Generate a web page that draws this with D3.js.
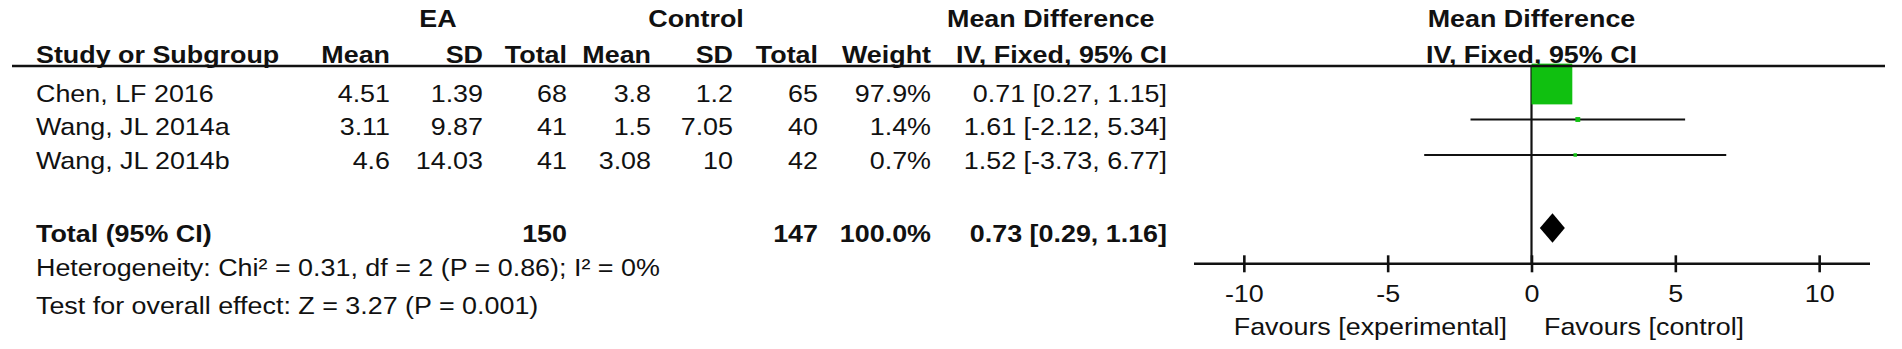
<!DOCTYPE html>
<html>
<head>
<meta charset="utf-8">
<script src="https://cdn.jsdelivr.net/npm/d3@7"></script>
<style>
    html, body { margin: 0; padding: 0; background: #fff; }
    svg { display: block; }
    text { font-family: "Liberation Sans", Arial, Helvetica, sans-serif; fill: #111; }
</style>
</head>
<body>
<div id="chart"></div>
<script>
// data
const studies = ['Chen, LF 2016', 'Wang, JL 2014a', 'Wang, JL 2014b']
const eaMean = [4.51, 3.11, 4.6]
const eaSD = [1.39, 9.87, 14.03]
const eaTotal = [68, 41, 41]
const ctrlMean = [3.8, 1.5, 3.08]
const ctrlSD = [1.2, 7.05, 10]
const ctrlTotal = [65, 40, 42]
const weights = [97.9, 1.4, 0.7]
const meanDiff = [0.71, 1.61, 1.52]
const ciLow = [0.27, -2.12, -3.73]
const ciHigh = [1.15, 5.34, 6.77]

const pooled = [0.73, 0.29, 1.16]   // mean difference, lower, upper
const pooledN = [150, 147]          // EA, control
const pooledWeight = 100

const xTicks = [-10, -5, 0, 5, 10]
const groupLabels = ['EA', 'Control', 'Mean Difference', 'Mean Difference']
const favourLabels = ['Favours [experimental]', 'Favours [control]']
const heterogeneity = 'Heterogeneity: Chi\u00b2 = 0.31, df = 2 (P = 0.86); I\u00b2 = 0%'
const overallEffect = 'Test for overall effect: Z = 3.27 (P = 0.001)'

function draw(){
    // set Dimension
    let dimensions = {
        width: 1902,
        height: 349,
        fontSize: 24,
        stretch: 1.12,
        headLine: 66,
        axisY: 263.3
    }

    const svg = d3.select('#chart')
        .append('svg')
        .attr('width', dimensions.width)
        .attr('height', dimensions.height)

    // text that is a bit wider than the font
    const label = (parent, str, x, y, anchor = 'start', bold = false) => parent.append('text')
        .attr('transform', `translate(${x}, ${y}) scale(${dimensions.stretch}, 1)`)
        .attr('text-anchor', anchor)
        .attr('font-size', dimensions.fontSize)
        .attr('font-weight', bold ? 'bold' : 'normal')
        .text(str)

    const pct = d3.format('.1f')
    const ci = (m, lo, hi) => `${m.toFixed(2)} [${lo.toFixed(2)}, ${hi.toFixed(2)}]`

    const rows = studies.map((name, i) => ({
        name,
        eaMean: eaMean[i], eaSD: eaSD[i], eaTotal: eaTotal[i],
        ctrlMean: ctrlMean[i], ctrlSD: ctrlSD[i], ctrlTotal: ctrlTotal[i],
        weight: weights[i], md: meanDiff[i], lo: ciLow[i], hi: ciHigh[i]
    }))

    // table columns
    const columns = [
        { head: 'Study or Subgroup', x: 36, anchor: 'start', value: d => d.name },
        { head: 'Mean', x: 390, anchor: 'end', value: d => d.eaMean },
        { head: 'SD', x: 483, anchor: 'end', value: d => d.eaSD },
        { head: 'Total', x: 567, anchor: 'end', value: d => d.eaTotal },
        { head: 'Mean', x: 651, anchor: 'end', value: d => d.ctrlMean },
        { head: 'SD', x: 733, anchor: 'end', value: d => d.ctrlSD },
        { head: 'Total', x: 818, anchor: 'end', value: d => d.ctrlTotal },
        { head: 'Weight', x: 931, anchor: 'end', value: d => pct(d.weight) + '%' },
        { head: 'IV, Fixed, 95% CI', x: 1167, anchor: 'end', value: d => ci(d.md, d.lo, d.hi) }
    ]

    // set Scale
    const xScale = d3.scaleLinear()
        .domain([-11.75, 11.75])
        .range([1193.5, 1869.5])

    const rowY = d3.scaleLinear()
        .domain([0, studies.length - 1])
        .range([101.5, 168.5])

    const markY = d3.scaleLinear()
        .domain([0, studies.length - 1])
        .range([84, 155])

    const boxSize = d3.scaleSqrt()
        .domain([0, 100])
        .range([0, 41.2])

    // headers
    const head = svg.append('g').classed('header', true)
    label(head, groupLabels[0], 438, 27, 'middle', true)
    label(head, groupLabels[1], 696, 27, 'middle', true)
    label(head, groupLabels[2], 947, 27, 'start', true)
    label(head, groupLabels[3], xScale(0), 27, 'middle', true)

    columns.forEach(c => label(head, c.head, c.x, 63, c.anchor, true))
    label(head, 'IV, Fixed, 95% CI', xScale(0), 63, 'middle', true)

    // study rows
    const body = svg.append('g').classed('rows', true)
    rows.forEach((d, i) => {
        columns.forEach(c => label(body, c.value(d), c.x, rowY(i), c.anchor))
    })

    // total row
    const total = svg.append('g').classed('total', true)
    label(total, 'Total (95% CI)', 36, 242, 'start', true)
    label(total, pooledN[0], 567, 242, 'end', true)
    label(total, pooledN[1], 818, 242, 'end', true)
    label(total, pct(pooledWeight) + '%', 931, 242, 'end', true)
    label(total, ci(...pooled), 1167, 242, 'end', true)

    label(svg, heterogeneity, 36, 276)
    label(svg, overallEffect, 36, 314)

    // plot
    const plot = svg.append('g').classed('plot', true)

    plot.append('line')
        .attr('x1', xScale(0))
        .attr('x2', xScale(0))
        .attr('y1', dimensions.headLine)
        .attr('y2', dimensions.axisY)
        .attr('stroke', '#111')
        .attr('stroke-width', 2.2)

    plot.selectAll('line.ci')
        .data(rows)
        .join('line')
        .classed('ci', true)
        .attr('x1', d => xScale(d.lo))
        .attr('x2', d => xScale(d.hi))
        .attr('y1', (d, i) => markY(i))
        .attr('y2', (d, i) => markY(i))
        .attr('stroke', '#111')
        .attr('stroke-width', 2.2)

    plot.selectAll('rect.box')
        .data(rows)
        .join('rect')
        .classed('box', true)
        .attr('x', d => xScale(d.md) - boxSize(d.weight) / 2)
        .attr('y', (d, i) => markY(i) - boxSize(d.weight) / 2)
        .attr('width', d => boxSize(d.weight))
        .attr('height', d => boxSize(d.weight))
        .attr('fill', '#10c010')

    const dy = 14.7
    const dTop = 228
    plot.append('path')
        .attr('d', d3.line()([
            [xScale(pooled[1]), dTop],
            [xScale(pooled[0]), dTop - dy],
            [xScale(pooled[2]), dTop],
            [xScale(pooled[0]), dTop + dy]
        ]) + 'Z')
        .attr('fill', '#000')

    // axis
    const axis = d3.axisBottom(xScale)
        .tickValues(xTicks)
        .tickFormat(d => String(d))
        .tickSizeOuter(0)
        .tickSizeInner(9)

    svg.append('g')
        .attr('transform', `translate(0, ${dimensions.axisY})`)
        .call(axis)
        .call(g => g.select('.domain').attr('stroke', '#111').attr('stroke-width', 2.6))
        .call(g => g.selectAll('.tick line')
            .attr('y1', -8)
            .attr('y2', 9)
            .attr('stroke', '#111')
            .attr('stroke-width', 2.6))
        .call(g => g.selectAll('.tick text')
            .attr('y', 39)
            .attr('dy', null)
            .attr('font-size', dimensions.fontSize)
            .attr('transform', `scale(${dimensions.stretch}, 1)`)
            .attr('fill', null))

    label(svg, favourLabels[0], 1507, 335, 'end')
    label(svg, favourLabels[1], 1544, 335, 'start')

    // header underline on top
    svg.append('line')
        .attr('x1', 12)
        .attr('x2', 1885)
        .attr('y1', dimensions.headLine)
        .attr('y2', dimensions.headLine)
        .attr('stroke', '#111')
        .attr('stroke-width', 2.6)
}

draw()
</script>
</body>
</html>
